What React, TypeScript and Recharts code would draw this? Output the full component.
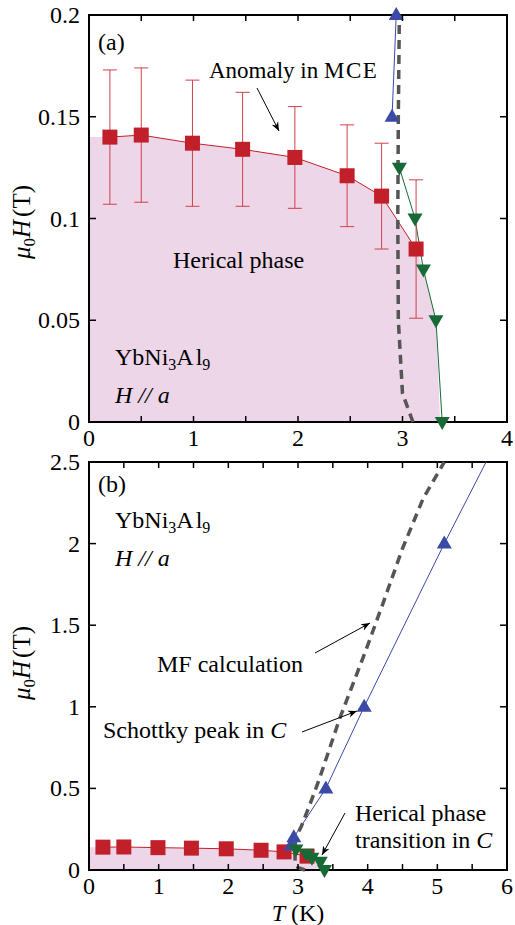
import React from 'react'
import { ComposedChart, XAxis, YAxis, Line, Area, Scatter, ErrorBar, ReferenceArea } from 'recharts'

// red squares: anomaly in MCE (with error bars)
const redT = [0.2, 0.5, 0.99, 1.47, 1.97, 2.47, 2.8, 3.13]
const redH = [0.140, 0.141, 0.137, 0.134, 0.130, 0.121, 0.111, 0.085]
const redErr = [0.033, 0.033, 0.031, 0.028, 0.025, 0.025, 0.026, 0.034]

// green down triangles: herical phase transition in C
const greenT = [2.97, 3.12, 3.2, 3.32, 3.38]
const greenH = [0.125, 0.1, 0.075, 0.05, 0.0]

// blue up triangles: Schottky peak in C
const blueT = [2.9, 2.94, 3.4, 3.95, 5.1]
const blueH = [0.15, 0.2, 0.5, 1.0, 2.0]
// blue guide line keeps going past the last point
const blueLineT = [...blueT, 5.7]
const blueLineH = [...blueH, 2.5]

// MF calculation (dashed)
const mfT = [3.1, 3.0, 2.96, 2.955, 2.96, 2.97, 3.05, 3.17, 3.3, 3.45, 3.6, 3.78, 3.96, 4.2, 4.5, 4.8, 5.1]
const mfH = [0, 0.014, 0.05, 0.1, 0.15, 0.2, 0.27, 0.4, 0.55, 0.74, 0.93, 1.13, 1.33, 1.61, 1.97, 2.28, 2.5]

// shaded helical phase boundary
const fillT = [0, ...redT, 3.2, 3.32, 3.36]
const fillH = [0.14, ...redH, 0.075, 0.05, 0]

const xTicksA = [0, 0.5, 1, 1.5, 2, 2.5, 3, 3.5, 4]
const yTicksA = [0, 0.05, 0.1, 0.15, 0.2]
const xTicksB = [0, 0.5, 1, 1.5, 2, 2.5, 3, 3.5, 4, 4.5, 5, 5.5, 6]
const yTicksB = [0, 0.5, 1, 1.5, 2, 2.5]

const zip = (t: number[], h: number[]) => t.map((v, i) => ({ t: v, h: h[i] }))
const red = redT.map((v, i) => ({ t: v, h: redH[i], err: redErr[i] }))
const green = zip(greenT, greenH)
const blue = zip(blueT, blueH)
const blueLine = zip(blueLineT, blueLineH)
const mf = zip(mfT, mfH)
const fill = zip(fillT, fillH)

const RED = '#c1202b'
const BLUE = '#3a4aa6'
const GREEN = '#176a36'
const PINK = '#ecd6e8'
const FONT = "'Liberation Serif', 'Times New Roman', Times, 'DejaVu Serif', serif"

const W = 515
const PLOT_L = 89
const PLOT_R = 507
const YW = 60

const Square = (p: any) => <rect x={p.cx - 7.5} y={p.cy - 7.5} width={15} height={15} fill={RED} />
const TriUp = (p: any) => (
  <polygon points={`${p.cx},${p.cy - 8} ${p.cx - 7.5},${p.cy + 5} ${p.cx + 7.5},${p.cy + 5}`} fill={BLUE} />
)
const TriDown = (p: any) => (
  <polygon points={`${p.cx - 7.5},${p.cy - 5} ${p.cx + 7.5},${p.cy - 5} ${p.cx},${p.cy + 8}`} fill={GREEN} />
)
const NoDot = () => null

function XTick(props: any) {
  const { x, payload, top, axisY } = props
  const v = payload.value
  return (
    <g>
      <line x1={x} x2={x} y1={axisY} y2={axisY - 6} stroke="#000" strokeWidth={1.5} />
      <line x1={x} x2={x} y1={top} y2={top + 6} stroke="#000" strokeWidth={1.5} />
      {Number.isInteger(v) && (
        <text x={x} y={axisY + 24} textAnchor="middle" fontSize={24} style={{ fontFamily: FONT }} fill="#000">
          {v}
        </text>
      )}
    </g>
  )
}

function YTick(props: any) {
  const { y, payload } = props
  return (
    <g>
      <line x1={PLOT_L} x2={PLOT_L + 7} y1={y} y2={y} stroke="#000" strokeWidth={1.5} />
      <line x1={PLOT_R - 7} x2={PLOT_R} y1={y} y2={y} stroke="#000" strokeWidth={1.5} />
      <text x={PLOT_L - 9} y={y + 8} textAnchor="end" fontSize={24} style={{ fontFamily: FONT }} fill="#000">
        {String(payload.value)}
      </text>
    </g>
  )
}

function Panel({ height, top, bottom, xMax, yMax, xTicks, yTicks, errors, blueData, mfData }: any) {
  const axisY = height - bottom
  return (
    <ComposedChart width={W} height={height} margin={{ top, right: W - PLOT_R, bottom: bottom - 28, left: PLOT_L - YW }}>
      <Area data={fill} dataKey="h" type="linear" fill={PINK} fillOpacity={1} stroke="none" isAnimationActive={false} />
      <Line data={red} dataKey="h" type="linear" stroke={RED} strokeWidth={1} dot={false} isAnimationActive={false} />
      <Line data={blueData} dataKey="h" type="linear" stroke={BLUE} strokeWidth={1} dot={false} isAnimationActive={false} />
      <Line data={green} dataKey="h" type="linear" stroke={GREEN} strokeWidth={1} dot={false} isAnimationActive={false} />
      <Line
        data={mfData}
        dataKey="h"
        type="linear"
        stroke="#555"
        strokeWidth={3.5}
        strokeDasharray="9 6"
        dot={false}
        isAnimationActive={false}
      />
      {errors && (
        <Scatter data={red} dataKey="h" shape={NoDot} isAnimationActive={false}>
          <ErrorBar dataKey="err" direction="y" width={7} stroke="#d0404a" strokeWidth={1} />
        </Scatter>
      )}
      <Scatter data={red} dataKey="h" shape={Square} isAnimationActive={false} />
      <Scatter data={blue.filter((d) => d.h <= yMax)} dataKey="h" shape={TriUp} isAnimationActive={false} />
      <Scatter data={green} dataKey="h" shape={TriDown} isAnimationActive={false} />
      <ReferenceArea x1={0} x2={xMax} y1={0} y2={yMax} fill="none" stroke="#000" strokeWidth={2} />
      <XAxis
        type="number"
        dataKey="t"
        domain={[0, xMax]}
        ticks={xTicks}
        interval={0}
        height={28}
        tickSize={0}
        tickMargin={0}
        axisLine={false}
        tickLine={false}
        tick={(p: any) => <XTick {...p} top={top} axisY={axisY} />}
      />
      <YAxis
        type="number"
        dataKey="h"
        domain={[0, yMax]}
        ticks={yTicks}
        interval={0}
        width={YW}
        tickSize={0}
        tickMargin={0}
        axisLine={false}
        tickLine={false}
        tick={(p: any) => <YTick {...p} />}
      />
    </ComposedChart>
  )
}

const Arrow = ({ x1, y1, x2, y2 }: any) => (
  <line x1={x1} y1={y1} x2={x2} y2={y2} stroke="#000" strokeWidth={1} markerEnd="url(#arr)" />
)

const Compound = ({ x, y }: any) => (
  <text x={x} y={y} fontSize={24}>
    YbNi<tspan fontSize={16} dy={5}>3</tspan>
    <tspan dy={-5}>A</tspan>
    <tspan dx={2}>l</tspan>
    <tspan fontSize={16} dy={5}>9</tspan>
  </text>
)

const HParA = ({ x, y }: any) => (
  <text x={x} y={y} fontSize={24} fontStyle="italic">
    H // a
  </text>
)

const YLabel = ({ cx, cy }: any) => (
  <text transform={`translate(${cx},${cy}) rotate(-90)`} textAnchor="middle" fontSize={25}>
    <tspan fontStyle="italic">μ</tspan>
    <tspan fontSize={17} dy={5}>0</tspan>
    <tspan dy={-5} fontStyle="italic">H</tspan>
    <tspan dx={3}>(T)</tspan>
  </text>
)

export default function App() {
  const topMf = mf.filter((d) => d.h <= 0.2)
  const topBlue = blueLine.filter((d) => d.h <= 0.2)
  return (
    <div style={{ position: 'absolute', left: 0, top: 0, width: W, height: 925, background: '#fff', fontFamily: FONT }}>
      <div style={{ position: 'absolute', left: 0, top: 0 }}>
        <Panel height={450} top={15} bottom={28} xMax={4} yMax={0.2} xTicks={xTicksA} yTicks={yTicksA}
          errors blueData={topBlue} mfData={topMf} />
      </div>
      <div style={{ position: 'absolute', left: 0, top: 450 }}>
        <Panel height={475} top={12} bottom={55} xMax={6} yMax={2.5} xTicks={xTicksB} yTicks={yTicksB}
          errors={false} blueData={blueLine} mfData={mf} />
      </div>
      <svg width={W} height={925} style={{ position: 'absolute', left: 0, top: 0, pointerEvents: 'none', fontFamily: FONT }}>
        <defs>
          <marker id="arr" viewBox="0 0 10 10" refX="10" refY="5" markerWidth="9" markerHeight="9" orient="auto">
            <path d="M0,1 L10,5 L0,9 L3,5 z" fill="#000" />
          </marker>
        </defs>
        <g fill="#000">
          <text x={98} y={50} fontSize={24}>(a)</text>
          <text x={209} y={78} fontSize={23}>
            Anomaly in <tspan letterSpacing={1.5}>MCE</tspan>
          </text>
          <Arrow x1={257} y1={88} x2={279} y2={131} />
          <text x={173} y={268} fontSize={24}>Herical phase</text>
          <Compound x={115} y={365} />
          <HParA x={115} y={403} />

          <text x={98} y={492} fontSize={24}>(b)</text>
          <Compound x={115} y={528} />
          <HParA x={115} y={566} />
          <text x={157} y={672} fontSize={24}>MF calculation</text>
          <Arrow x1={315} y1={653} x2={370} y2={623} />
          <text x={103} y={738} fontSize={24}>
            Schottky peak in <tspan fontStyle="italic">C</tspan>
          </text>
          <Arrow x1={302} y1={732} x2={357} y2={711} />
          <text x={355} y={821} fontSize={24}>Herical phase</text>
          <text x={355} y={848} fontSize={24}>
            transition in <tspan fontStyle="italic">C</tspan>
          </text>
          <Arrow x1={345} y1={813} x2={322} y2={855} />
          <text x={298} y={921} textAnchor="middle" fontSize={24}>
            <tspan fontStyle="italic">T</tspan> (K)
          </text>
          <YLabel cx={30} cy={222} />
          <YLabel cx={30} cy={663} />
        </g>
      </svg>
    </div>
  )
}
